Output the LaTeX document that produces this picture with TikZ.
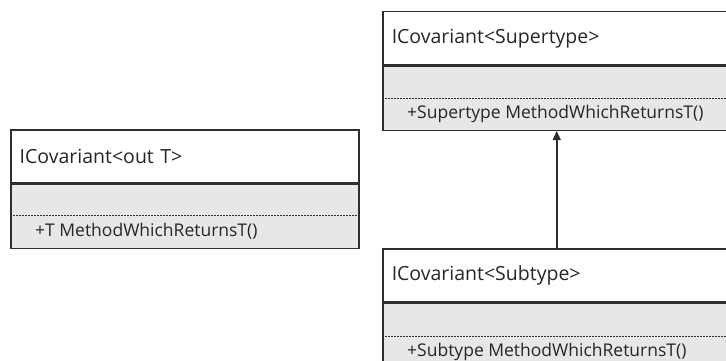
\documentclass[tikz,border=0pt]{standalone}
\usepackage{fontspec}
\setmainfont{Open Sans}
\usetikzlibrary{positioning,arrows.meta}
\definecolor{boxline}{HTML}{2E2E2E}
\definecolor{opfill}{HTML}{E6E7E8}
\tikzset{
  classhead/.style={draw=boxline, line width=1.5pt, fill=white, anchor=north west,
    minimum width=348pt, minimum height=53pt, text width=330pt, inner xsep=9pt,
    align=left, font=\fontsize{19.5}{22}\selectfont, text=black!85},
  classbody/.style={draw=boxline, line width=1.5pt, fill=opfill,
    minimum width=348pt, minimum height=64pt, inner sep=0pt},
  opsep/.style={dash pattern=on 1.6pt off 1.4pt, line width=1.6pt, boxline},
  optext/.style={anchor=west, inner sep=0pt, font=\fontsize{17.5}{20}\selectfont, text=black!85}
}
\begin{document}
\begin{tikzpicture}[x=1pt, y=-1pt, >={Triangle[width=8pt,length=9pt]}]
    \useasboundingbox (0,0) rectangle (726,361);
    \clip (0,0) rectangle (726,361);
    % generic interface
    \node[classhead] (outT) at (10,129) {ICovariant<out T>};
    \node[classbody, below=0pt of outT] (outTbody) {};
    \draw[opsep] ([yshift=-32pt]outTbody.north west) -- ([yshift=-32pt]outTbody.north east);
    \node[optext] (outTop) at ([xshift=25pt,yshift=-48pt]outTbody.north west) {+T MethodWhichReturnsT()};
    % supertype
    \node[classhead] (sup) at (382,11) {ICovariant<Supertype>};
    \node[classbody, below=0pt of sup] (supbody) {};
    \draw[opsep] ([yshift=-33pt]supbody.north west) -- ([yshift=-33pt]supbody.north east);
    \node[optext] (supop) at ([xshift=25pt,yshift=-48pt]supbody.north west) {+Supertype MethodWhichReturnsT()};
    % subtype
    \node[classhead, below=117pt of supbody.south west, anchor=north west] (sub) {ICovariant<Subtype>};
    \node[classbody, below=0pt of sub] (subbody) {};
    \draw[opsep] ([yshift=-34pt]subbody.north west) -- ([yshift=-34pt]subbody.north east);
    \node[optext] (subop) at ([xshift=25pt,yshift=-49pt]subbody.north west) {+Subtype MethodWhichReturnsT()};
    \draw[->, line width=1.5pt, boxline] (sub.north) -- (supbody.south);
\end{tikzpicture}
\end{document}
